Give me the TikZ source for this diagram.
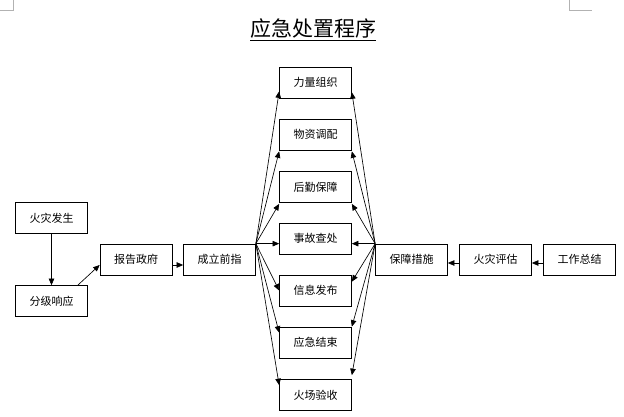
\documentclass[tikz,border=0pt]{standalone}
\usepackage{fontspec}
\newfontfamily\cjk{Noto Sans CJK SC}
\usetikzlibrary{arrows.meta}

\tikzset{
  box/.style={draw, line width=0.7pt, minimum width=72pt, minimum height=31pt, inner sep=0pt, font=\cjk\fontsize{11}{13}\selectfont},
  arr/.style={line width=0.65pt, -{Triangle[length=6.5pt,width=5.5pt]}},
  cornermark/.style={draw=gray!60, line width=0.6pt}
}

\begin{document}
\begin{tikzpicture}[x=1pt, y=-1pt]
  \useasboundingbox (0,0) rectangle (624,417);

  % Titel
  \node (title) at (313,30) {\cjk\fontsize{21}{25}\selectfont\underline{应急处置程序}};

  % Eckmarken der Seite
  \draw[cornermark] (0,10) -- (13,10) -- (13,0);
  \draw[cornermark] (569,0) -- (569,10) -- (592,10);

  % linke Kette
  \node[box] (fire) at (51.5,218) {火灾发生};
  \node[box] (level) at (51.5,301) {分级响应};
  \node[box] (report) at (136,259.5) {报告政府};
  \node[box] (command) at (219.5,259.5) {成立前指};

  % mittlere Spalte
  \node[box] (force) at (315.5,82.5) {力量组织};
  \node[box] (supply) at (315.5,134.5) {物资调配};
  \node[box] (logistics) at (315.5,187) {后勤保障};
  \node[box] (inquiry) at (315.5,238.5) {事故查处};
  \node[box] (info) at (315.5,290.5) {信息发布};
  \node[box] (close) at (315.5,342.5) {应急结束};
  \node[box] (accept) at (315.5,395) {火场验收};

  % rechte Kette
  \node[box] (measures) at (411.5,259.5) {保障措施};
  \node[box] (assess) at (495.5,259.5) {火灾评估};
  \node[box] (summary) at (579.5,259.5) {工作总结};

  % Pfeile links
  \draw[arr] (fire) -- (level);
  \draw[arr] ([xshift=-10pt]level.north east) -- ([yshift=-5.5pt]report.west);
  \draw[arr] ([yshift=-5.5pt]report.east) -- ([yshift=-5.5pt]command.west);

  % Faecher von "成立前指"
  \draw[arr] (command.north east) -- ([yshift=7pt]force.south west);
  \draw[arr] (command.north east) -- ([yshift=-1pt]supply.south west);
  \draw[arr] (command.north east) -- ([yshift=-1pt]logistics.south west);
  \draw[arr] (command.north east) -- (inquiry.west |- command.north east);
  \draw[arr] (command.north east) -- (info.west);
  \draw[arr] (command.north east) -- ([yshift=-6pt]close.north west);
  \draw[arr] (command.north east) -- ([yshift=-6pt]accept.north west);

  % Faecher von "保障措施"
  \draw[arr] (measures.north west) -- ([yshift=6pt]force.south east);
  \draw[arr] (measures.north west) -- ([yshift=-1pt]supply.south east);
  \draw[arr] (measures.north west) -- ([yshift=-1pt]logistics.south east);
  \draw[arr] (measures.north west) -- (inquiry.east |- measures.north west);
  \draw[arr] (measures.north west) -- ([yshift=-7pt]info.north east);
  \draw[arr] (measures.north west) -- (close.north east);
  \draw[arr] (measures.north west) -- ([yshift=4pt]accept.north east);

  % Pfeile rechts
  \draw[arr] ([yshift=-3.5pt]summary.west) -- ([yshift=-3.5pt]assess.east);
  \draw[arr] ([yshift=-3.5pt]assess.west) -- ([yshift=-3.5pt]measures.east);
\end{tikzpicture}
\end{document}
